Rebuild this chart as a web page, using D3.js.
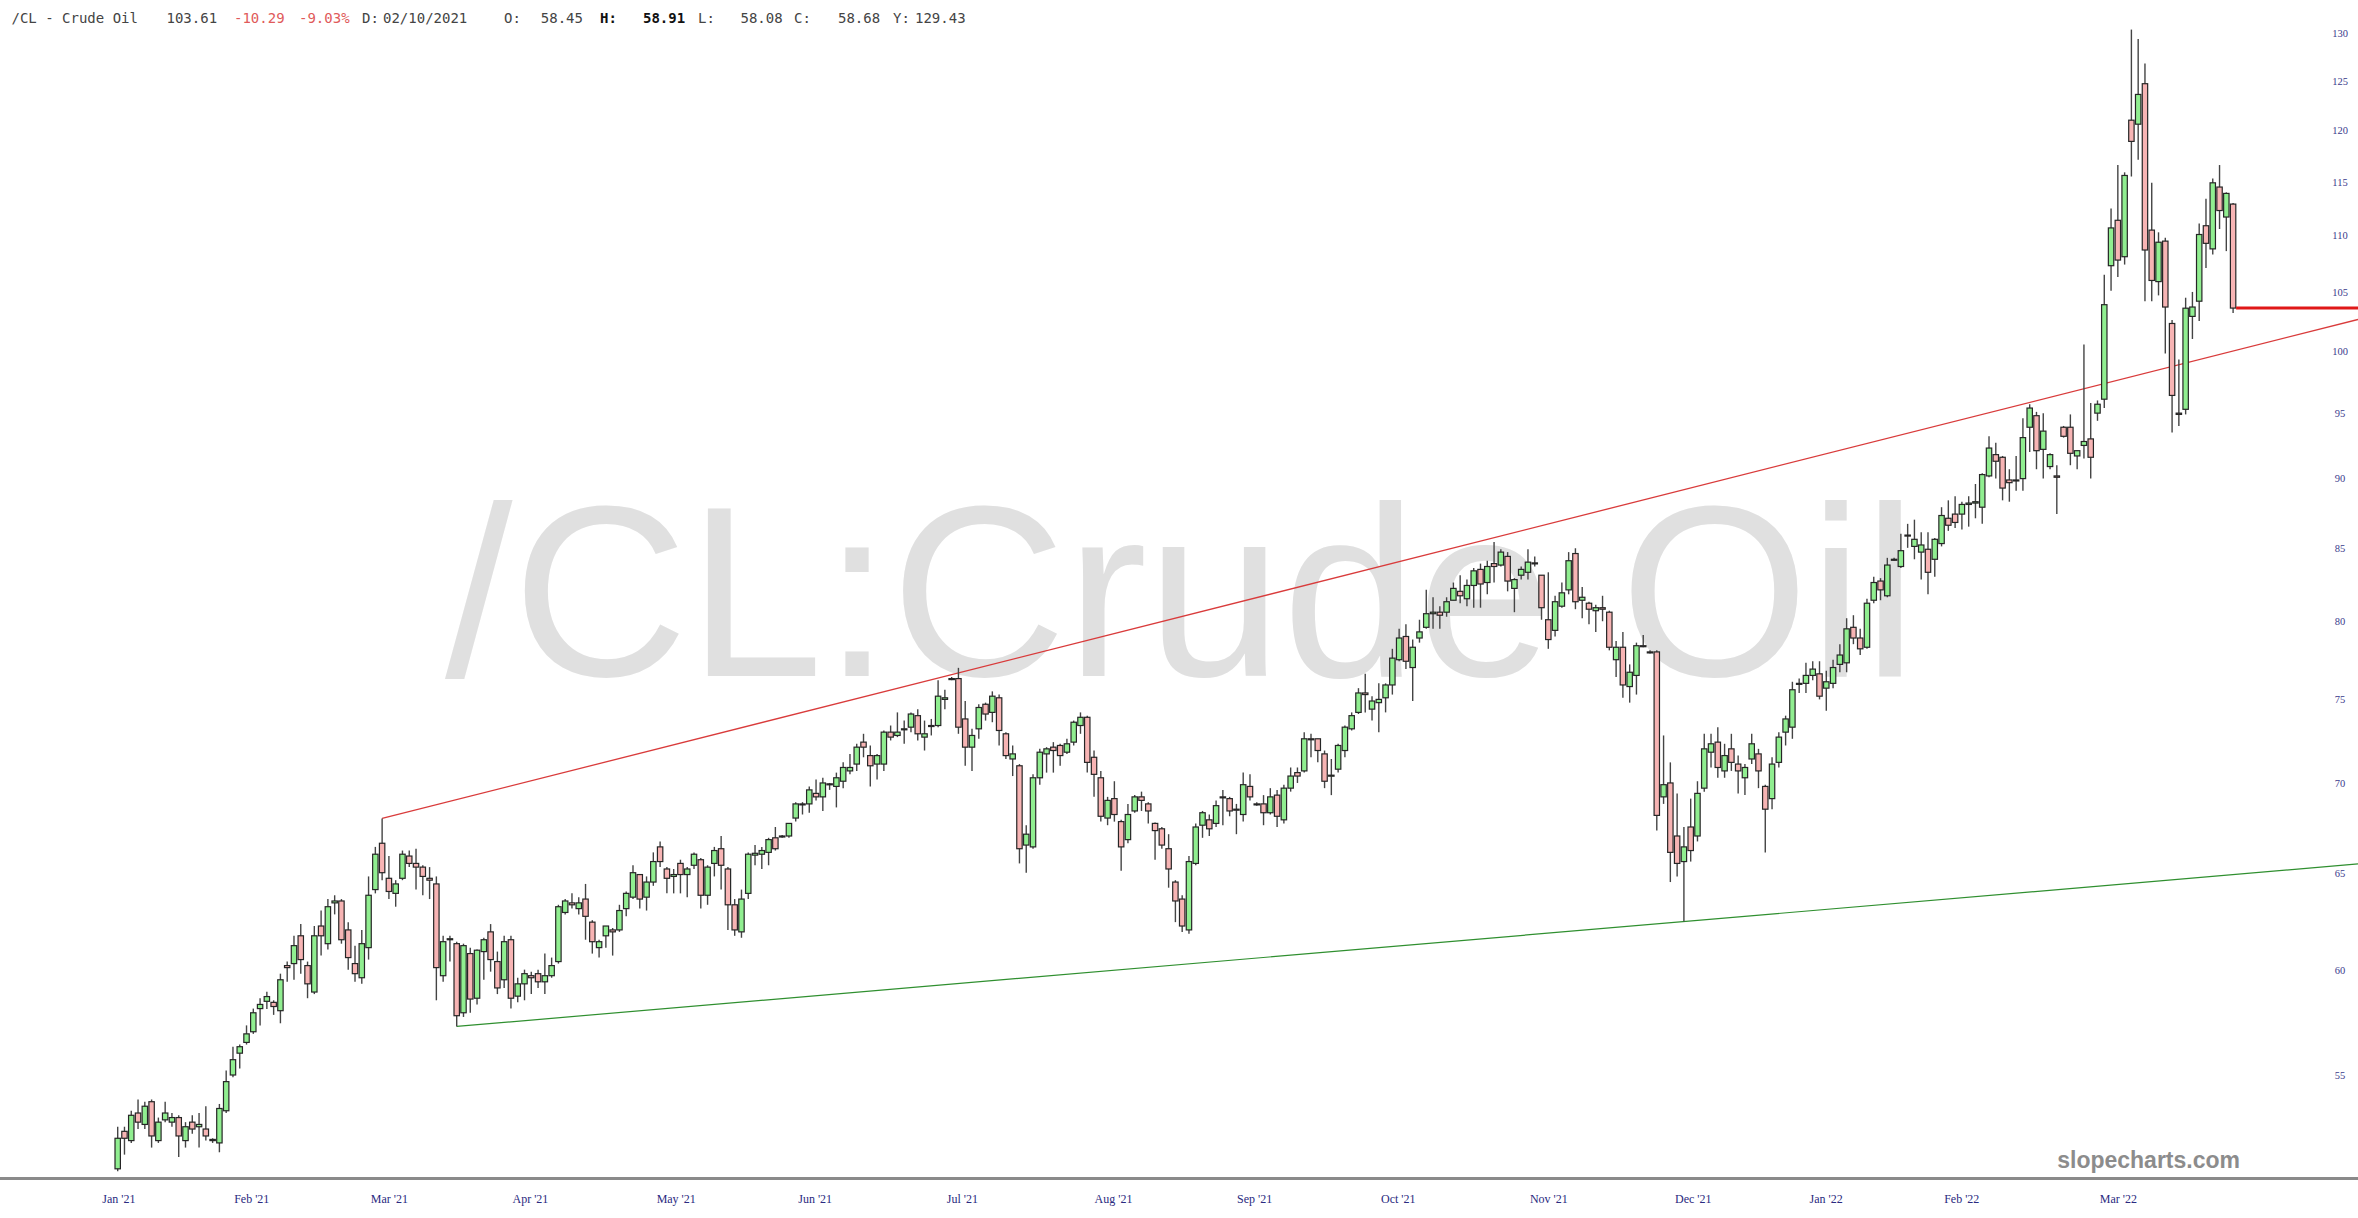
<!DOCTYPE html>
<html>
<head>
<meta charset="utf-8">
<script src="https://cdn.jsdelivr.net/npm/d3@7"></script>
<style>
  html, body { margin: 0; padding: 0; background: #fff; }
  svg { display: block; }
</style>
</head>
<body>
<div id="chart"></div>
<script>
// daily bars, one row per session: [open, high, low, close]
const jan21 = [
  [50.9,52.7,50.8,52.2],[52.5,52.7,51.5,52.2],[52.1,53.4,52.0,53.2],[53.3,53.9,52.6,52.9],
  [52.8,53.8,52.6,53.6],[53.8,53.9,51.8,52.3],[52.1,53.1,52.0,52.9],[53.0,53.8,52.9,53.3],
  [52.9,53.3,52.7,53.1],[53.1,53.2,51.4,52.3],[52.1,52.9,51.8,52.7],[52.9,53.2,52.4,52.6],
  [52.7,53.3,51.8,52.8],[52.6,53.6,52.1,52.3],[52.15,52.2,52.0,52.1]
];
const feb21 = [
  [52.0,53.7,51.6,53.5],[53.4,55.2,53.3,54.7],[55.0,56.3,54.9,55.7],[56.0,56.4,55.3,56.3],
  [56.5,57.3,56.4,56.9],[57.0,58.1,56.9,57.9],[58.1,58.6,57.3,58.3],[58.45,58.91,58.08,58.68],
  [58.4,58.5,57.8,58.2],[58.0,59.8,57.4,59.5],[60.2,60.4,59.4,60.1],[60.3,61.7,59.5,61.2],
  [61.7,62.3,59.8,60.5],[60.2,60.4,58.6,59.3],[58.9,62.2,58.8,61.7],[62.2,63.0,60.7,61.7],
  [61.3,63.6,61.0,63.2],[63.4,63.8,62.8,63.5],[63.5,63.6,61.3,61.5]
];
const mar21 = [
  [62.0,62.4,60.0,60.6],[60.3,61.2,59.4,59.8],[59.6,62.0,59.3,61.3],[61.1,64.8,60.5,63.8],
  [64.1,66.4,63.9,66.0],[66.6,67.98,64.6,65.0],[64.7,65.9,63.6,64.0],[63.9,64.6,63.2,64.4],
  [64.7,66.2,64.6,66.0],[65.9,66.2,65.3,65.5],[65.5,66.3,64.1,65.3],[65.3,65.4,63.8,64.8],
  [64.7,65.3,63.6,64.6],[64.4,64.8,58.5,60.1],[59.7,61.7,59.4,61.4],[61.5,61.7,60.4,61.55],
  [61.3,61.4,57.25,57.76],[57.9,61.3,57.7,61.2],[60.8,61.1,57.9,58.56],[58.6,61.0,58.3,60.97],
  [60.9,61.6,59.5,61.5],[61.9,62.3,59.9,60.5],[60.4,60.9,58.8,59.1]
];
const apr21 = [
  [59.5,61.7,59.1,61.4],[61.5,61.7,58.1,58.6],[58.7,59.6,58.4,59.3],[59.3,60.0,58.5,59.8],
  [59.7,59.9,58.8,59.6],[59.8,60.0,59.1,59.4],[59.4,60.8,58.8,59.7],[59.7,60.6,59.6,60.2],
  [60.4,63.3,60.3,63.2],[62.9,63.6,62.8,63.5],[63.4,63.9,63.1,63.3],[63.1,63.7,62.8,63.4],
  [63.6,64.4,61.5,62.7],[62.4,62.5,60.8,61.4],[61.1,61.5,60.6,61.4],[61.7,62.2,61.1,62.2],
  [62.0,62.1,60.7,61.9],[62.0,63.3,61.9,63.0],[63.1,64.0,62.7,63.9],[63.7,65.4,63.6,65.0],
  [64.9,64.9,63.1,63.6]
];
const may21 = [
  [63.7,64.8,63.0,64.5],[64.5,66.1,64.3,65.6],[66.4,66.7,65.3,65.6],[65.2,65.3,63.9,64.7],
  [64.8,65.2,63.9,64.9],[65.5,65.7,63.9,64.9],[64.9,65.3,63.7,65.2],[65.4,66.1,65.2,66.0],
  [65.7,65.8,63.1,63.8],[63.8,65.4,63.3,65.3],[65.5,66.4,64.8,66.2],[66.3,67.0,64.1,65.4],
  [65.2,65.3,62.0,63.3],[63.3,63.6,61.7,62.0],[61.9,64.1,61.6,63.6],[63.9,66.1,63.6,66.0],
  [65.95,66.5,65.4,66.05],[66.0,66.4,65.2,66.2],[66.1,66.9,65.4,66.8],[66.9,67.5,66.2,66.3],
  [66.95,67.05,66.9,67.0]
];
const jun21 = [
  [67.0,67.7,66.9,67.7],[68.0,68.9,67.8,68.8],[68.8,68.9,68.2,68.75],[68.8,69.8,68.3,69.6],
  [69.4,70.2,69.0,69.2],[69.2,70.3,68.4,70.0],[69.95,70.0,69.6,69.9],[69.8,70.6,68.6,70.3],
  [70.1,71.2,69.7,70.9],[70.7,71.7,70.5,70.9],[71.1,72.3,70.7,72.1],[72.4,72.9,71.5,72.1],
  [71.6,72.2,69.8,71.0],[71.1,71.7,70.2,71.6],[71.1,73.1,70.7,73.0],[73.0,73.4,72.5,72.7],
  [72.8,74.2,72.7,73.0],[73.2,73.7,72.3,73.2],[73.3,74.2,73.0,74.1],[74.0,74.4,72.5,72.9],
  [72.7,73.7,71.9,72.9],[73.4,73.8,72.8,73.4]
];
const jul21 = [
  [73.4,76.2,73.3,75.2],[75.0,75.6,74.4,75.1],[76.3,76.4,76.2,76.3],[76.3,76.98,72.9,73.3],
  [73.8,74.9,71.0,72.1],[72.1,73.2,70.7,72.8],[73.2,74.7,72.6,74.5],[74.7,74.8,73.7,74.1],
  [74.2,75.5,73.6,75.2],[75.1,75.3,72.2,73.1],[72.9,73.0,71.4,71.6],[71.4,72.2,70.4,71.7],
  [71.0,71.1,65.5,66.3],[66.5,67.6,65.0,67.1],[66.4,70.5,66.3,70.3],[70.3,72.0,69.9,71.8],
  [71.7,72.1,70.6,72.0],[72.1,72.4,70.6,71.9],[72.2,72.3,71.0,71.6],[71.8,72.6,71.7,72.3],
  [72.4,73.7,72.2,73.6],[73.4,74.2,72.9,73.9]
];
const aug21 = [
  [73.9,74.0,70.6,71.2],[71.5,71.9,69.2,70.5],[70.3,70.7,67.8,68.1],[68.0,69.2,67.6,69.0],
  [69.1,70.1,67.8,68.2],[67.8,67.9,65.1,66.4],[66.8,68.8,66.6,68.2],[68.4,69.3,68.3,69.2],
  [69.2,69.5,68.4,69.0],[68.8,68.9,67.7,68.4],[67.7,67.75,65.7,67.3],[67.4,67.5,66.3,66.5],
  [66.3,67.1,64.2,65.2],[64.5,64.6,62.4,63.5],[63.6,63.8,61.9,62.2],[62.0,65.9,61.8,65.6],
  [65.5,67.7,65.4,67.5],[67.6,68.4,66.9,68.3],[67.9,68.2,67.0,67.4],[67.7,69.0,67.5,68.7],
  [69.2,69.6,67.6,69.15],[69.1,69.2,68.1,68.4]
];
const sep21 = [
  [68.5,68.8,67.1,68.45],[68.2,70.6,67.8,69.9],[69.8,70.5,69.0,69.2],[68.8,68.9,68.7,68.75],
  [68.8,69.3,67.6,68.3],[68.3,69.7,68.2,69.2],[69.3,69.6,67.5,68.1],[67.9,69.9,67.7,69.7],
  [69.7,70.9,69.5,70.4],[70.6,70.9,70.0,70.4],[70.7,73.0,70.6,72.6],[72.6,72.9,71.5,72.55],
  [72.6,72.6,71.2,71.9],[71.7,71.9,69.7,70.1],[70.4,71.4,69.3,70.45],[70.8,72.3,70.6,72.2],
  [71.9,73.4,71.5,73.3],[73.2,74.2,73.1,74.0],[74.2,75.7,74.1,75.4],[75.4,76.6,74.2,75.3],
  [74.4,75.2,73.7,74.9],[74.8,76.0,73.0,75.0]
];
const oct21 = [
  [75.1,76.0,74.2,75.9],[75.9,78.2,75.3,77.6],[77.5,79.5,77.4,78.9],[79.0,79.8,76.9,77.4],
  [77.0,78.8,74.9,78.3],[78.9,80.1,78.6,79.3],[79.6,82.1,79.5,80.5],[80.5,81.6,79.5,80.6],
  [80.6,81.0,79.5,80.4],[80.6,81.6,80.3,81.3],[81.4,82.6,81.4,82.2],[82.0,83.1,81.2,81.7],
  [81.5,82.8,81.0,82.4],[82.4,83.6,80.9,83.4],[83.5,83.9,80.9,82.5],[82.6,84.1,81.8,83.7],
  [83.9,85.41,82.6,83.7],[83.8,84.9,83.7,84.7],[84.4,84.7,82.0,82.7],[82.2,82.9,80.6,82.8],
  [83.1,83.7,82.8,83.5]
];
const nov21 = [
  [83.3,84.9,82.8,84.0],[83.95,84.4,83.7,83.9],[83.1,83.1,80.1,80.9],[80.1,83.3,78.2,78.8],
  [79.4,81.7,79.0,81.3],[81.0,82.6,80.9,81.9],[82.1,84.7,81.8,84.1],[84.6,84.97,80.8,81.3],
  [81.4,82.3,80.2,81.6],[81.2,81.3,79.8,80.8],[80.7,81.1,79.3,80.9],[80.9,81.7,80.0,80.8],
  [80.6,80.7,78.1,78.3],[77.5,78.7,76.4,78.3],[78.3,79.3,75.1,75.9],[75.8,77.2,74.8,76.7],
  [76.5,78.6,75.3,78.4],[78.4,79.1,78.3,78.35],[78.0,78.1,77.9,77.95],[78.0,78.1,67.3,68.15],
  [69.2,72.8,68.8,69.9],[70.0,71.2,64.5,66.1]
];
const dec21 = [
  [67.0,69.4,64.8,65.5],[65.6,67.5,62.43,66.4],[67.5,69.1,65.6,66.2],[67.0,70.1,66.7,69.4],
  [69.7,72.9,69.5,72.0],[71.8,72.9,70.9,72.3],[72.4,73.3,70.3,70.9],[70.7,72.3,70.3,71.6],
  [72.0,72.9,70.7,71.2],[71.1,71.6,69.4,70.7],[70.3,71.1,69.3,70.9],[71.4,72.9,71.1,72.3],
  [71.7,72.0,69.7,70.7],[69.8,69.9,66.1,68.5],[69.1,71.5,68.5,71.1],[71.2,73.0,70.9,72.7],
  [73.0,74.0,72.2,73.8],[73.3,76.1,72.6,75.6],[75.95,76.3,75.4,76.0],[76.0,77.3,75.4,76.5],
  [76.5,77.4,76.2,76.9],[76.6,77.4,75.0,75.2]
];
const jan22 = [
  [75.7,76.8,74.3,76.1],[76.0,77.5,75.7,77.0],[77.2,78.5,76.7,77.8],[77.3,80.2,76.7,79.5],
  [79.6,80.4,78.5,78.9],[78.9,79.5,77.8,78.2],[78.3,81.5,78.2,81.2],[81.4,83.0,81.2,82.6],
  [82.7,82.9,81.4,82.1],[81.7,84.3,81.6,83.8],[84.2,84.3,84.1,84.15],[83.7,86.0,83.6,84.8],
  [85.9,86.7,85.0,85.85],[85.1,87.0,84.2,85.6],[84.7,86.1,82.8,85.2],[84.9,86.1,81.8,83.3],
  [84.2,85.7,83.0,85.6],[85.3,87.9,85.1,87.3],[87.1,88.4,86.2,86.6],[87.4,88.7,86.4,86.8],
  [87.4,88.3,86.3,88.1]
];
const feb22 = [
  [88.1,88.7,86.5,88.2],[88.2,89.6,87.1,88.3],[87.9,90.4,86.7,90.3],[90.2,93.2,90.1,92.3],
  [91.8,92.7,90.0,91.3],[91.6,91.7,88.4,89.3],[89.9,90.7,88.3,89.7],[89.9,91.7,89.1,89.85],
  [90.0,94.6,89.1,93.1],[93.9,95.7,92.0,95.4],[94.8,95.1,90.7,92.1],[92.2,95.0,90.0,93.6],
  [90.9,91.9,90.7,91.8],[90.2,91.0,87.4,90.1],[93.9,94.0,93.1,93.2],[93.9,94.9,91.0,91.9],
  [91.7,92.1,90.7,92.1],[92.5,100.54,91.5,92.8],[93.0,95.8,90.0,91.6],[95.0,96.0,94.4,95.7]
];
const mar22 = [
  [96.1,106.5,95.4,103.9],[107.3,112.5,105.1,110.7],[111.4,116.6,106.3,107.8],[108.1,115.9,107.4,115.6],
  [121.0,130.4,115.5,118.9],[120.6,129.4,117.1,123.6],[124.7,126.8,104.2,108.7],[110.5,114.9,104.2,106.0],
  [105.9,110.3,104.7,109.4],[109.5,109.8,99.8,103.7],[102.3,102.6,93.5,96.4],[95.0,99.3,94.0,94.9],
  [95.3,104.5,94.9,103.6],[102.9,105.0,101.0,103.7],[104.2,111.1,102.5,110.1],[110.9,113.4,107.1,109.3],
  [108.8,115.3,108.3,114.9],[114.5,116.6,110.6,112.3],[111.7,114.0,108.6,113.9],[112.9,113.0,103.2,103.61]
];

// x labels and the bar index they sit on
const monthLabels = ["Jan '21","Feb '21","Mar '21","Apr '21","May '21","Jun '21","Jul '21","Aug '21",
                     "Sep '21","Oct '21","Nov '21","Dec '21","Jan '22","Feb '22","Mar '22"];
const monthAt = [0.1, 19.7, 40.0, 60.8, 82.3, 102.8, 124.5, 146.8, 167.6, 188.8, 211.0, 232.3, 251.9, 271.9, 295.0];
const yTicks = [55, 60, 65, 70, 75, 80, 85, 90, 95, 100, 105, 110, 115, 120, 125, 130];

// trend lines: [bar index, price] anchors, extended to the right edge
const redTrend = [[39, 67.98], [312, 100.0]];
const greenTrend = [[50, 57.25], [231, 62.43]];
const lastPrice = 103.61;

const W = 2358, H = 1218;
const bars = [].concat(jan21, feb21, mar21, apr21, may21, jun21, jul21, aug21,
                       sep21, oct21, nov21, dec21, jan22, feb22, mar22)
  .map((d, i) => ({i: i, o: d[0], h: d[1], l: d[2], c: d[3]}));

const svg = d3.select("#chart").append("svg")
  .attr("width", W).attr("height", H)
  .style("font-family", "'Liberation Sans', Arial, sans-serif");

svg.append("rect").attr("width", W).attr("height", H).attr("fill", "#fff");

const x = d3.scaleLinear().domain([0, bars.length - 1]).range([117.7, 2233.1]);
const y = d3.scaleLog().domain([55, 130]).range([1075, 33.3]);
const bodyW = 5.4;

// big watermark
svg.append("text")
  .attr("x", 445).attr("y", 676)
  .style("font-family", "'Liberation Sans', Arial, sans-serif")
  .style("font-size", "243px")
  .attr("fill", "#e0e0e0")
  .text("/CL:Crude Oil");

// header line
const header = [
  {t: "/CL - Crude Oil", x: 11.5},
  {t: "103.61", x: 166.5},
  {t: "-10.29", x: 234, fill: "#e05a5a"},
  {t: "-9.03%", x: 299, fill: "#e05a5a"},
  {t: "D:", x: 362},
  {t: "02/10/2021", x: 383},
  {t: "O:", x: 504},
  {t: "58.45", x: 540.8},
  {t: "H:", x: 600, bold: true},
  {t: "58.91", x: 643, bold: true},
  {t: "L:", x: 698},
  {t: "58.08", x: 740.5},
  {t: "C:", x: 794},
  {t: "58.68", x: 838},
  {t: "Y:", x: 893},
  {t: "129.43", x: 915}
];
svg.append("g").selectAll("text").data(header).join("text")
  .attr("x", d => d.x).attr("y", 23)
  .style("font-family", "'DejaVu Sans Mono', monospace")
  .style("font-size", "14px")
  .style("font-weight", d => d.bold ? "bold" : "normal")
  .attr("fill", d => d.fill || (d.bold ? "#111" : "#444"))
  .text(d => d.t);

// trend lines
function trend(anchors, color, width) {
  const x1 = x(anchors[0][0]), y1 = y(anchors[0][1]);
  const x2 = x(anchors[1][0]), y2 = y(anchors[1][1]);
  const slope = (y2 - y1) / (x2 - x1);
  svg.append("line")
    .attr("x1", x1).attr("y1", y1)
    .attr("x2", W).attr("y2", y1 + slope * (W - x1))
    .attr("stroke", color).attr("stroke-width", width);
}
trend(redTrend, "#d93b3b", 1.3);
trend(greenTrend, "#2f8f2f", 1.2);

// candles
const candles = svg.append("g").selectAll("g").data(bars).join("g");
candles.append("line")
  .attr("x1", d => x(d.i)).attr("x2", d => x(d.i))
  .attr("y1", d => y(d.h)).attr("y2", d => y(d.l))
  .attr("stroke", "#444").attr("stroke-width", 1.4);
candles.append("rect")
  .attr("x", d => x(d.i) - bodyW / 2)
  .attr("width", bodyW)
  .attr("y", d => y(Math.max(d.o, d.c)))
  .attr("height", d => Math.max(1, Math.abs(y(d.o) - y(d.c))))
  .attr("fill", d => d.c >= d.o ? "#90ee90" : "#f7b4b4")
  .attr("stroke", "#262626").attr("stroke-width", 1.2);

// last price line
svg.append("line")
  .attr("x1", x(bars.length - 1) + 3).attr("x2", W)
  .attr("y1", y(lastPrice)).attr("y2", y(lastPrice))
  .attr("stroke", "#e01818").attr("stroke-width", 3);

// y axis labels
const yAxis = svg.append("g")
  .attr("transform", "translate(2340,0)")
  .call(d3.axisRight(y).tickValues(yTicks).tickSize(0).tickPadding(0).tickFormat(d3.format("d")));
yAxis.select(".domain").remove();
yAxis.selectAll("text")
  .attr("x", 0).attr("text-anchor", "middle")
  .style("font-family", "'Liberation Serif', 'Times New Roman', serif")
  .style("font-size", "10.5px")
  .attr("fill", "#3a3a8c");

// bottom axis line
svg.append("line")
  .attr("x1", 0).attr("x2", W).attr("y1", 1178.5).attr("y2", 1178.5)
  .attr("stroke", "#8a8a8a").attr("stroke-width", 3);

// x axis labels
const xAxis = svg.append("g")
  .attr("transform", "translate(0,1194.5)")
  .call(d3.axisBottom(x).tickValues(monthAt).tickSize(0).tickPadding(0)
    .tickFormat((d, i) => monthLabels[i]));
xAxis.select(".domain").remove();
xAxis.selectAll("text")
  .style("font-family", "'Liberation Serif', 'Times New Roman', serif")
  .style("font-size", "12px")
  .attr("fill", "#2a2a80");

// site mark
svg.append("text")
  .attr("x", 2240).attr("y", 1168)
  .attr("text-anchor", "end")
  .style("font-family", "'Liberation Sans', Arial, sans-serif")
  .style("font-size", "23px").style("font-weight", "bold")
  .attr("fill", "#8c8c8c")
  .text("slopecharts.com");
</script>
</body>
</html>
